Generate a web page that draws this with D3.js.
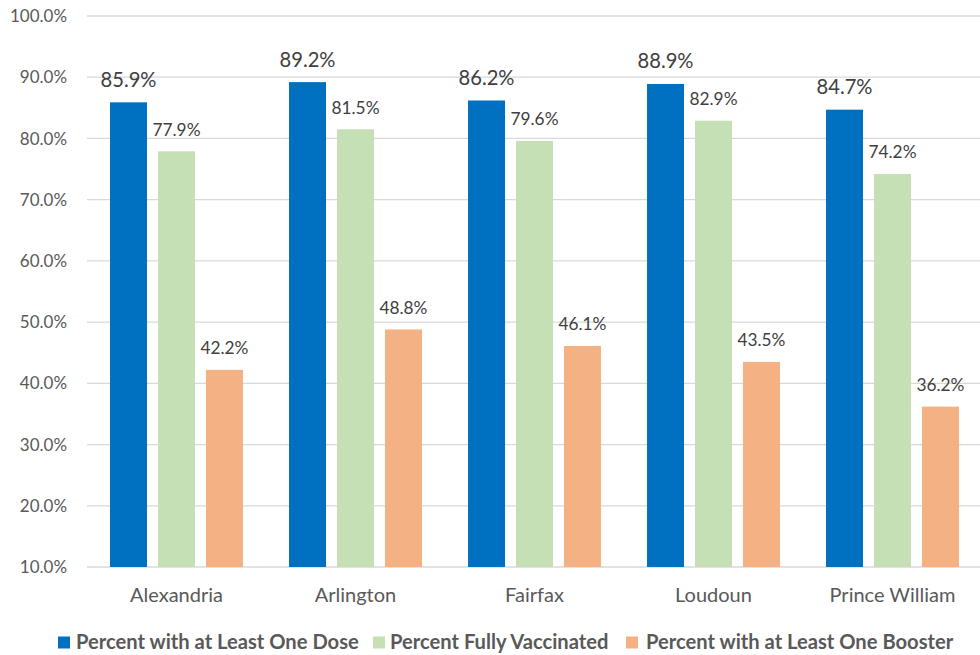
<!DOCTYPE html>
<html><head><meta charset="utf-8">
<script src="https://cdn.jsdelivr.net/npm/d3@7"></script>
<style>body{margin:0;background:#fff}</style>
</head><body>
<svg id="c" width="980" height="655"></svg>
<script>
const categories = ["Alexandria","Arlington","Fairfax","Loudoun","Prince William"];
const seriesNames = ["Percent with at Least One Dose","Percent Fully Vaccinated","Percent with at Least One Booster"];
const oneDose = [85.9, 89.2, 86.2, 88.9, 84.7];
const fully = [77.9, 81.5, 79.6, 82.9, 74.2];
const booster = [42.2, 48.8, 46.1, 43.5, 36.2];
const yTicks = [10,20,30,40,50,60,70,80,90,100];
const colors = ["#0070C0","#C5E0B4","#F4B183"];
const series = [oneDose, fully, booster];

const font = "Lato, 'Open Sans', sans-serif";
const svg = d3.select("#c");
const pL = 87, pR = 982, pT = 16, pB = 567;
const x = d3.scaleBand().domain(categories).range([pL, pR]).paddingInner(0).paddingOuter(0);
const y = d3.scaleLinear().domain([10,100]).range([pB, pT]);
const inner = d3.scaleBand().domain(d3.range(3)).range([0, x.bandwidth()]).paddingInner(0.229).paddingOuter(0.48);
const pct = d => d3.format(".1f")(d) + "%";

// font size that makes a sample string reach a target width
function fit(sample, target, weight) {
  const t = svg.append("text").attr("font-family", font).attr("font-size", 100)
    .attr("font-weight", weight || "normal").text(sample);
  const w = t.node().getComputedTextLength();
  t.remove();
  return 100 * target / w;
}
const fsY = fit("100.0%", 57);
const fsCat = fit("Alexandria", 93);
const fsBlue = fit("85.9%", 56);
const fsOther = fit("77.9%", 48);
const fsLeg = fit(seriesNames[0], 283, "bold");

// gridlines
svg.append("g").selectAll("line").data(yTicks).join("line")
  .attr("x1", pL).attr("x2", pR)
  .attr("y1", d=>y(d)).attr("y2", d=>y(d))
  .attr("stroke", "#d9d9d9").attr("stroke-width", 1.3);

// y labels
svg.append("g").selectAll("text").data(yTicks).join("text")
  .attr("x", 67).attr("y", d=>y(d)).attr("dy","0.36em")
  .attr("text-anchor","end").attr("font-family",font).attr("font-size",fsY)
  .attr("fill","#595959").text(pct);

// bars
series.forEach((vals, si) => {
  const g = svg.append("g");
  g.selectAll("rect").data(vals).join("rect")
    .attr("x", (d,i)=>x(categories[i]) + inner(si))
    .attr("width", inner.bandwidth())
    .attr("y", d=>y(d)).attr("height", d=>y(10)-y(d))
    .attr("fill", colors[si]);
  g.selectAll("text").data(vals).join("text")
    .attr("x", (d,i)=>x(categories[i]) + inner(si) + inner.bandwidth()/2)
    .attr("y", d=>y(d) - 15.5)
    .attr("text-anchor","middle").attr("font-family",font)
    .attr("font-size", si===0 ? fsBlue : fsOther).attr("fill","#404040")
    .text(pct);
});

// category labels
svg.append("g").selectAll("text").data(categories).join("text")
  .attr("x", d=>x(d)+x.bandwidth()/2).attr("y", 602)
  .attr("text-anchor","middle").attr("font-family",font).attr("font-size",fsCat)
  .attr("fill","#595959").text(d=>d);

// legend
const legSq = [58, 373, 626];
const legTx = [76, 390, 646];
const lg = svg.append("g");
seriesNames.forEach((n,i)=>{
  lg.append("rect").attr("x", legSq[i]).attr("y", 636.5).attr("width",12).attr("height",12).attr("fill",colors[i]);
  lg.append("text").attr("x", legTx[i]).attr("y", 648.5)
    .attr("font-family",font).attr("font-weight","bold").attr("font-size",fsLeg)
    .attr("fill","#595959").text(n);
});
</script>
</body></html>
